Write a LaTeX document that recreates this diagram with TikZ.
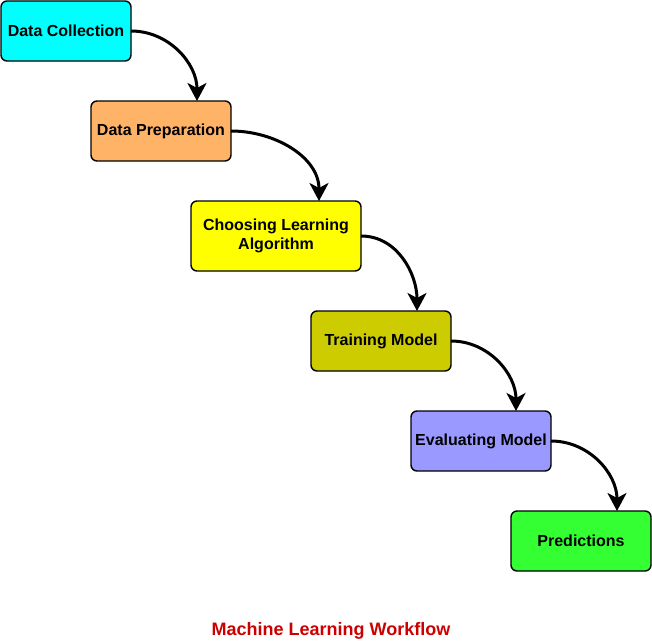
\documentclass[tikz,border=0pt]{standalone}
\usepackage{fontspec}
\setmainfont{Liberation Sans}
\definecolor{stepCyan}{HTML}{00FFFF}
\definecolor{stepOrange}{HTML}{FFB366}
\definecolor{stepYellow}{HTML}{FFFF00}
\definecolor{stepOlive}{HTML}{CCCC00}
\definecolor{stepViolet}{HTML}{9999FF}
\definecolor{stepGreen}{HTML}{33FF33}
\definecolor{titleRed}{HTML}{CC0000}
\usetikzlibrary{arrows.meta, calc}

\begin{document}
\begin{tikzpicture}[x=1pt, y=-1pt,
    stepbox/.style={draw, line width=1.4pt, rounded corners=6pt, outer sep=0pt,
        minimum width=140pt, minimum height=60pt, align=center,
        font=\fontsize{16}{19.5}\selectfont\bfseries},
    flow/.style={line width=3pt, -{Stealth[length=18pt, width=19pt, inset=5pt]}}]
    \useasboundingbox (0,0) rectangle (652,642);

    % workflow steps
    \node[stepbox, fill=stepCyan, minimum width=130pt] (collect) at (66,31) {Data Collection};
    \node[stepbox, fill=stepOrange] (prepare) at (161,131) {Data Preparation};
    \node[stepbox, fill=stepYellow, minimum width=170pt, minimum height=70pt] (choose) at (276,236) {Choosing Learning\\Algorithm};
    \node[stepbox, fill=stepOlive] (train) at (381,341) {Training Model};
    \node[stepbox, fill=stepViolet] (evaluate) at (481,441) {Evaluating Model};
    \node[stepbox, fill=stepGreen] (predict) at (581,541) {Predictions};

    % curved connectors
    \draw[flow] (collect.east) to[out=0, in=90] ([xshift=66pt]collect.east |- prepare.north);
    \draw[flow] (prepare.east) to[out=0, in=90] ([xshift=88pt]prepare.east |- choose.north);
    \draw[flow] (choose.east) to[out=0, in=90] ([xshift=56pt]choose.east |- train.north);
    \draw[flow] (train.east) to[out=0, in=90] ([xshift=65pt]train.east |- evaluate.north);
    \draw[flow] (evaluate.east) to[out=0, in=90] ([xshift=66pt]evaluate.east |- predict.north);

    % caption
    \node[font=\fontsize{18}{21}\selectfont\bfseries, text=titleRed] (caption) at (331,631) {Machine Learning Workflow};
\end{tikzpicture}
\end{document}
